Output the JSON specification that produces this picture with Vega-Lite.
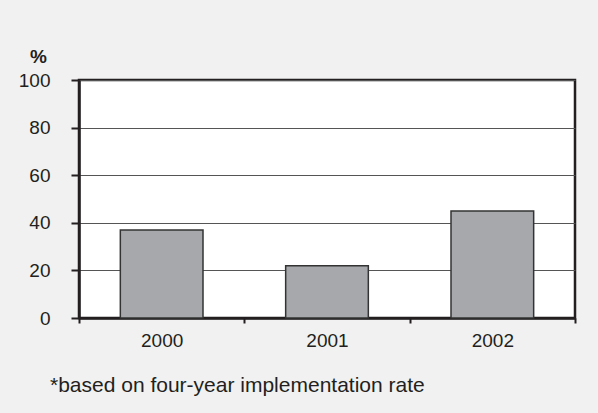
{
  "$schema": "https://vega.github.io/schema/vega-lite/v6.json",
  "width": 496,
  "height": 238,
  "autosize": {"type": "none"},
  "padding": {"left": 79, "top": 80, "right": 23, "bottom": 95},
  "background": "#f1f1f1",
  "data": {"values": [
    {"year": "2000", "pct": 37},
    {"year": "2001", "pct": 22},
    {"year": "2002", "pct": 45}
  ]},
  "title": {
    "text": "*based on four-year implementation rate",
    "orient": "bottom",
    "anchor": "start",
    "frame": "group",
    "dx": -29,
    "offset": 25,
    "baseline": "top",
    "font": "Liberation Sans",
    "fontSize": 21,
    "fontWeight": "normal",
    "color": "#231f20"
  },
  "mark": {"type": "bar", "fill": "#a7a8ab", "stroke": "#333333", "strokeWidth": 1.5, "width": {"band": 0.5}},
  "encoding": {
    "x": {
      "field": "year", "type": "nominal",
      "scale": {"paddingInner": 0, "paddingOuter": 0},
      "axis": {
        "title": null, "labelAngle": 0, "tickBand": "extent",
        "domainColor": "#231f20", "domainWidth": 2.5,
        "tickColor": "#231f20", "tickWidth": 2, "tickSize": 5,
        "labelPadding": 8, "labelFontSize": 19, "labelFont": "Liberation Sans",
        "labelColor": "#231f20"
      }
    },
    "y": {
      "field": "pct", "type": "quantitative",
      "scale": {"domain": [0, 100]},
      "axis": {
        "values": [0, 20, 40, 60, 80, 100],
        "title": "%", "titleAngle": 0, "titleAlign": "center", "titleBaseline": "alphabetic",
        "titleX": -41, "titleY": -18, "titleFont": "Liberation Sans", "titleFontSize": 19,
        "titleFontWeight": "bold", "titleColor": "#231f20",
        "grid": true, "gridColor": "#555555", "gridWidth": 1,
        "domainColor": "#231f20", "domainWidth": 2.5,
        "tickColor": "#231f20", "tickWidth": 2, "tickSize": 8,
        "labelPadding": 21, "labelFontSize": 19, "labelFont": "Liberation Sans",
        "labelColor": "#231f20"
      }
    }
  },
  "config": {
    "view": {"fill": "white", "stroke": "#231f20", "strokeWidth": 2.5}
  }
}
